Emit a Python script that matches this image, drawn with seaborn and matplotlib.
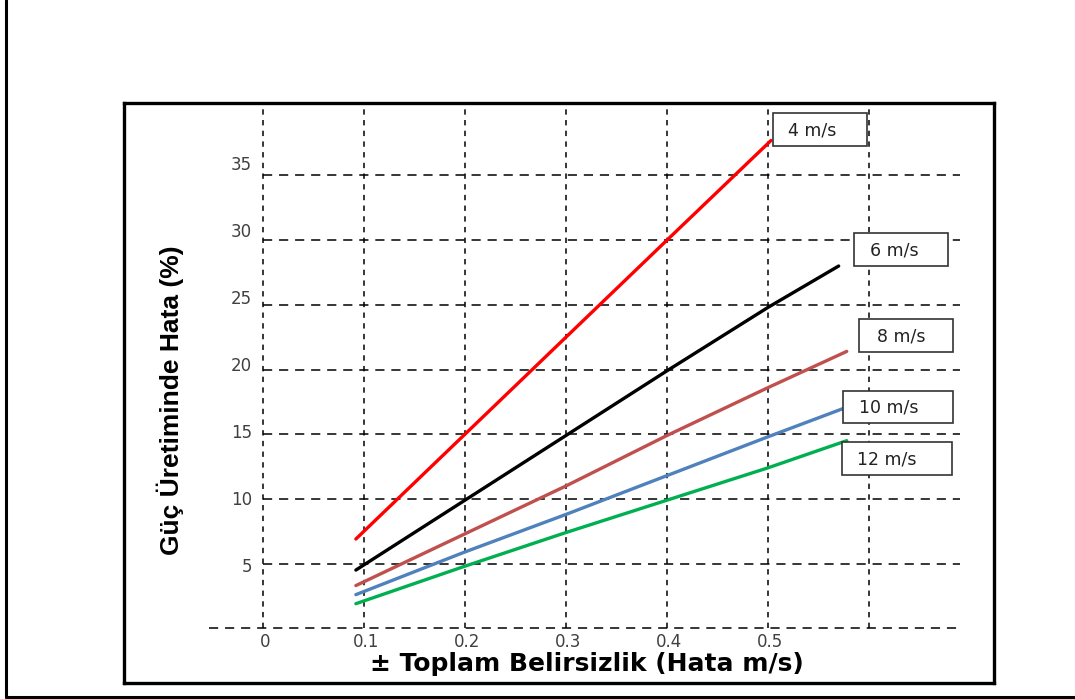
import matplotlib
matplotlib.use("Agg")
import matplotlib.pyplot as plt
from matplotlib import font_manager
from matplotlib.patches import Rectangle
from matplotlib.lines import Line2D
import seaborn as sns
import pandas as pd

# ---- data ----
speed_labels = ["4 m/s", "6 m/s", "8 m/s", "10 m/s", "12 m/s"]
x_4 = [0.092, 0.2, 0.3, 0.4, 0.503]
y_4 = [6.9, 15.0, 22.5, 30.0, 37.7]
x_6 = [0.092, 0.2, 0.3, 0.4, 0.5, 0.570]
y_6 = [4.5, 9.9, 14.9, 19.9, 24.8, 28.0]
x_8 = [0.092, 0.2, 0.3, 0.4, 0.5, 0.578]
y_8 = [3.3, 7.3, 11.0, 14.9, 18.6, 21.4]
x_10 = [0.092, 0.2, 0.3, 0.4, 0.5, 0.575]
y_10 = [2.6, 5.9, 8.8, 11.8, 14.8, 17.0]
x_12 = [0.092, 0.2, 0.3, 0.4, 0.5, 0.578]
y_12 = [1.9, 4.8, 7.4, 9.9, 12.4, 14.5]
x_ticks = [0, 0.1, 0.2, 0.3, 0.4, 0.5]
x_tick_labels = ["0", "0.1", "0.2", "0.3", "0.4", "0.5"]
x_grid = [0, 0.1, 0.2, 0.3, 0.4, 0.5, 0.6]
y_ticks = [5, 10, 15, 20, 25, 30, 35]
y_grid = [0, 5, 10, 15, 20, 25, 30, 35]
colors = ["#FF0000", "#000000", "#C0504D", "#4F81BD", "#00B050"]
x_title = "± Toplam Belirsizlik (Hata m/s)"
y_title = "Güç Üretiminde Hata (%)"

xs = [x_4, x_6, x_8, x_10, x_12]
ys = [y_4, y_6, y_8, y_10, y_12]
rows = []
for lab, xv, yv in zip(speed_labels, xs, ys):
    for a, b in zip(xv, yv):
        rows.append({"x": a, "y": b, "speed": lab})
df = pd.DataFrame(rows)

sns.set_theme(style="white")
plt.rcParams["font.family"] = ["DejaVu Sans"]

W, H = 1075, 699
fig = plt.figure(figsize=(W / 100, H / 100), dpi=100)
fig.patch.set_facecolor("white")


def fx(px):
    return px / W


def fy(py):
    return 1 - py / H


# axes box: pixels 124..994 (x), 103..683 (y)
ax = fig.add_axes([fx(124), fy(683), fx(994) - fx(124), fy(103) - fy(683)])
ax.set_xlim(-0.1376, 0.7238)
ax.set_ylim(-4.23, 40.6)
ax.set_facecolor("white")
for s in ax.spines.values():
    s.set_color("black")
    s.set_linewidth(2.4)

# dashed grid with restricted extents
ax.vlines(x_grid, 0, 40.2, colors="black", linewidth=1.1,
          linestyles=(0, (3.5, 3.5)), zorder=1)
ax.hlines(y_grid[1:], 0, 0.69, colors="black", linewidth=1.1,
          linestyles=(0, (6, 4.5)), zorder=1)
ax.hlines(y_grid[0], -0.053, 0.69, colors="black", linewidth=1.1,
          linestyles=(0, (6, 4.5)), zorder=1)

sns.lineplot(data=df, x="x", y="y", hue="speed", palette=colors,
             hue_order=speed_labels, estimator=None, sort=True,
             linewidth=2.4, legend=False, ax=ax, zorder=3)
ax.set_xlabel("")
ax.set_ylabel("")
ax.set_xticks([])
ax.set_yticks([])

# tick labels
for v, t in zip(x_ticks, x_tick_labels):
    ax.text(v + 0.002, -1.05, t, ha="center", va="center", fontsize=12,
            color="#404040")
for v in y_ticks:
    ax.text(-0.011, -0.44 + 1.0355 * v, str(v), ha="right", va="center",
            fontsize=12, color="#404040")

# axis titles
fig.text(fx(587), fy(664), x_title, ha="center", va="center",
         fontsize=18, fontweight="bold", color="black",
         family=["DejaVu Sans"])

narrow = None
for cand in ["Liberation Sans Narrow", "DejaVu Sans Condensed"]:
    try:
        font_manager.findfont(font_manager.FontProperties(family=cand),
                              fallback_to_default=False)
        narrow = cand
        break
    except Exception:
        pass
fam = [narrow, "Liberation Sans"] if narrow else ["Liberation Sans"]
fig.text(fx(170), fy(400), y_title, rotation=90, ha="center", va="center",
         fontsize=19, fontweight="bold", color="black", family=fam)

# labelled boxes (pixel layout)
boxes = [(773, 113, 867, 146, 788), (854, 233, 948, 266, 870),
         (859, 319, 953, 352, 877), (843, 391, 953, 423, 859),
         (842, 442, 952, 475, 857)]
for lab, (x0, y0, x1, y1, tx) in zip(speed_labels, boxes):
    r = Rectangle((fx(x0), fy(y1)), fx(x1) - fx(x0), fy(y0) - fy(y1),
                  transform=fig.transFigure, facecolor="white",
                  edgecolor="#333333", linewidth=1.2, zorder=5)
    fig.add_artist(r)
    fig.text(fx(tx), fy((y0 + y1) / 2 + 1), lab, ha="left", va="center",
             fontsize=12.5, color="#222222", zorder=6)

# outer frame (left and bottom edges)
fig.add_artist(Line2D([fx(6), fx(6)], [fy(0), fy(697)], color="black",
                      linewidth=2.2, transform=fig.transFigure))
fig.add_artist(Line2D([fx(6), fx(1075)], [fy(697), fy(697)], color="black",
                      linewidth=2.2, transform=fig.transFigure))

fig.savefig("out.png", dpi=100, facecolor="white")
